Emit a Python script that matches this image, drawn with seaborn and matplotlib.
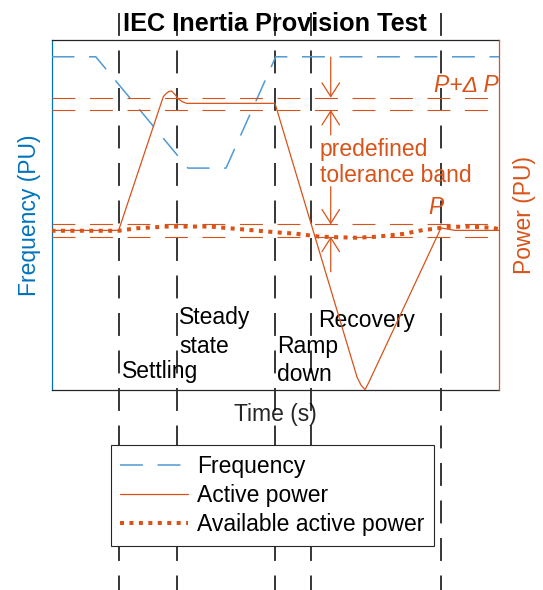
import matplotlib
matplotlib.use("Agg")
import matplotlib.pyplot as plt
import matplotlib.transforms as mtransforms
from matplotlib.patches import FancyArrowPatch
import seaborn as sns

sns.set_theme(style="white")
plt.rcParams["font.family"] = ["Liberation Sans", "DejaVu Sans"]
plt.rcParams["lines.scale_dashes"] = False

BLUE = "#0072BD"
FREQ_BLUE = "#4F9AD3"
ORANGE = "#D95319"
DARK = "#262626"
FS = 16.5

# Test phase boundaries (s)
phase_bounds = [15, 28, 50, 58, 87]
phase_names = ["Settling", "Steady\nstate", "Ramp\ndown", "Recovery"]

# Grid frequency (PU)
freq_t = [0, 9.9, 30.5, 39.0, 50.1, 100]
freq_v = [0.952, 0.952, 0.634, 0.634, 0.952, 0.952]

# Active power output (PU)
power_t = [0, 15.0, 24.98, 25.70, 26.26, 26.86, 27.60, 28.27, 29.16, 30.21,
           49.94, 68.27, 69.16, 70.06, 70.84, 87.04, 90.17, 100]
power_v = [0.456, 0.456, 0.838, 0.848, 0.853, 0.854, 0.844, 0.833, 0.824, 0.819,
           0.819, 0.037, 0.014, 0.001, 0.020, 0.463, 0.456, 0.456]

# Available active power (PU)
avail_t = [0, 15, 19, 25.7, 35.4, 39.9, 44.4, 51.7, 54.4, 60, 68.2, 72.7,
           78.6, 83, 85.3, 88.3, 92.8, 98, 100]
avail_v = [0.455, 0.455, 0.462, 0.467, 0.467, 0.462, 0.457, 0.449, 0.447, 0.438,
           0.435, 0.438, 0.446, 0.457, 0.460, 0.466, 0.467, 0.464, 0.460]

# Tolerance band limits: P+dP (upper pair) and P (lower pair)
band_levels = [0.835, 0.800, 0.473, 0.438]
arrow_t = 62.4
arrow_tails = [0.951, 0.729, 0.581, 0.338]

fig = plt.figure(figsize=(5.43, 5.90), dpi=100)
ax = fig.add_axes([51.5 / 543, 1 - 390 / 590, 447.5 / 543, 350 / 590])
ax2 = ax.twinx()

dash = (0, (16.5, 10.5))

# Phase boundaries run across the whole figure
trans = mtransforms.blended_transform_factory(ax.transData, ax.transAxes)
for x in phase_bounds:
    ax.plot([x, x], [1.077, -0.571], transform=trans, clip_on=False,
            color="black", lw=1.1, linestyle=dash, zorder=1)

sns.lineplot(x=freq_t, y=freq_v, ax=ax, color=FREQ_BLUE, lw=1.1,
             linestyle=dash, estimator=None, sort=False, zorder=3)
freq_line = ax.lines[-1]

for lvl in band_levels:
    ax2.axhline(lvl, color=ORANGE, lw=0.8, linestyle=dash, zorder=2)

sns.lineplot(x=power_t, y=power_v, ax=ax2, color=ORANGE, lw=0.9,
             estimator=None, sort=False, zorder=3)
power_line = ax2.lines[-1]
sns.lineplot(x=avail_t, y=avail_v, ax=ax2, color=ORANGE, lw=2.9,
             linestyle=(0, (2.9, 3.9)), estimator=None, sort=False, zorder=4)
avail_line = ax2.lines[-1]

# Tolerance band arrows
for tail, tip in zip(arrow_tails, band_levels):
    ax2.add_patch(FancyArrowPatch((arrow_t, tail), (arrow_t, tip),
                                  arrowstyle="->,head_length=0.55,head_width=0.35",
                                  mutation_scale=18, color=ORANGE, lw=0.9,
                                  shrinkA=0, shrinkB=0, zorder=5))

ax2.text(60.0, 0.686, "predefined", color=ORANGE, fontsize=FS, va="center", ha="left")
ax2.text(60.0, 0.614, "tolerance band", color=ORANGE, fontsize=FS, va="center", ha="left")
ax2.text(85.5, 0.871, "P+Δ P", color=ORANGE, fontsize=FS, style="italic",
         va="center", ha="left")
ax2.text(84.3, 0.52, "P", color=ORANGE, fontsize=FS, style="italic",
         va="center", ha="left")

# Phase labels
phase_text = [(15.7, [0.052]), (28.5, [0.206, 0.124]), (50.5, [0.124, 0.043]),
              (59.5, [0.200])]
for name, (tx, ys) in zip(phase_names, phase_text):
    for line, ty in zip(name.split("\n"), ys):
        ax.text(tx, ty, line, color="black", fontsize=FS, va="center", ha="left")

for a in (ax, ax2):
    a.set_xlim(0, 100)
    a.set_ylim(0, 1)
    a.set_xticks([])
    a.set_yticks([])

ax.set_title("IEC Inertia Provision Test", fontsize=FS * 1.1,
             fontweight="bold", color="black", pad=6.5)
ax.set_xlabel("Time (s)", fontsize=FS, color=DARK)
ax.xaxis.set_label_coords(0.5, -0.038)
ax.set_ylabel("Frequency (PU)", fontsize=FS, color=BLUE)
ax.yaxis.set_label_coords(-0.024, 0.5)
ax2.set_ylabel("Power (PU)", fontsize=FS, color=ORANGE)
ax2.yaxis.set_label_coords(1.031, 0.5)

for a in (ax, ax2):
    for s in a.spines.values():
        s.set_linewidth(0.9)
ax.spines["left"].set_color(BLUE)
ax.spines["top"].set_color(DARK)
ax.spines["bottom"].set_color(DARK)
ax.spines["right"].set_visible(False)
ax2.spines["right"].set_color(ORANGE)
for s in ("left", "top", "bottom"):
    ax2.spines[s].set_visible(False)

leg = fig.legend([freq_line, power_line, avail_line],
                 ["Frequency", "Active power", "Available active power"],
                 loc="upper left", bbox_to_anchor=(110.7 / 543, 1 - 445 / 590),
                 bbox_transform=fig.transFigure, fontsize=FS, frameon=True,
                 fancybox=False, edgecolor=DARK, framealpha=1, borderpad=0.42,
                 handlelength=2.97, handletextpad=0.38, labelspacing=0.27,
                 borderaxespad=0)
leg.get_frame().set_linewidth(0.8)
for t in leg.get_texts():
    t.set_color("black")

fig.savefig("out.png", dpi=100)
